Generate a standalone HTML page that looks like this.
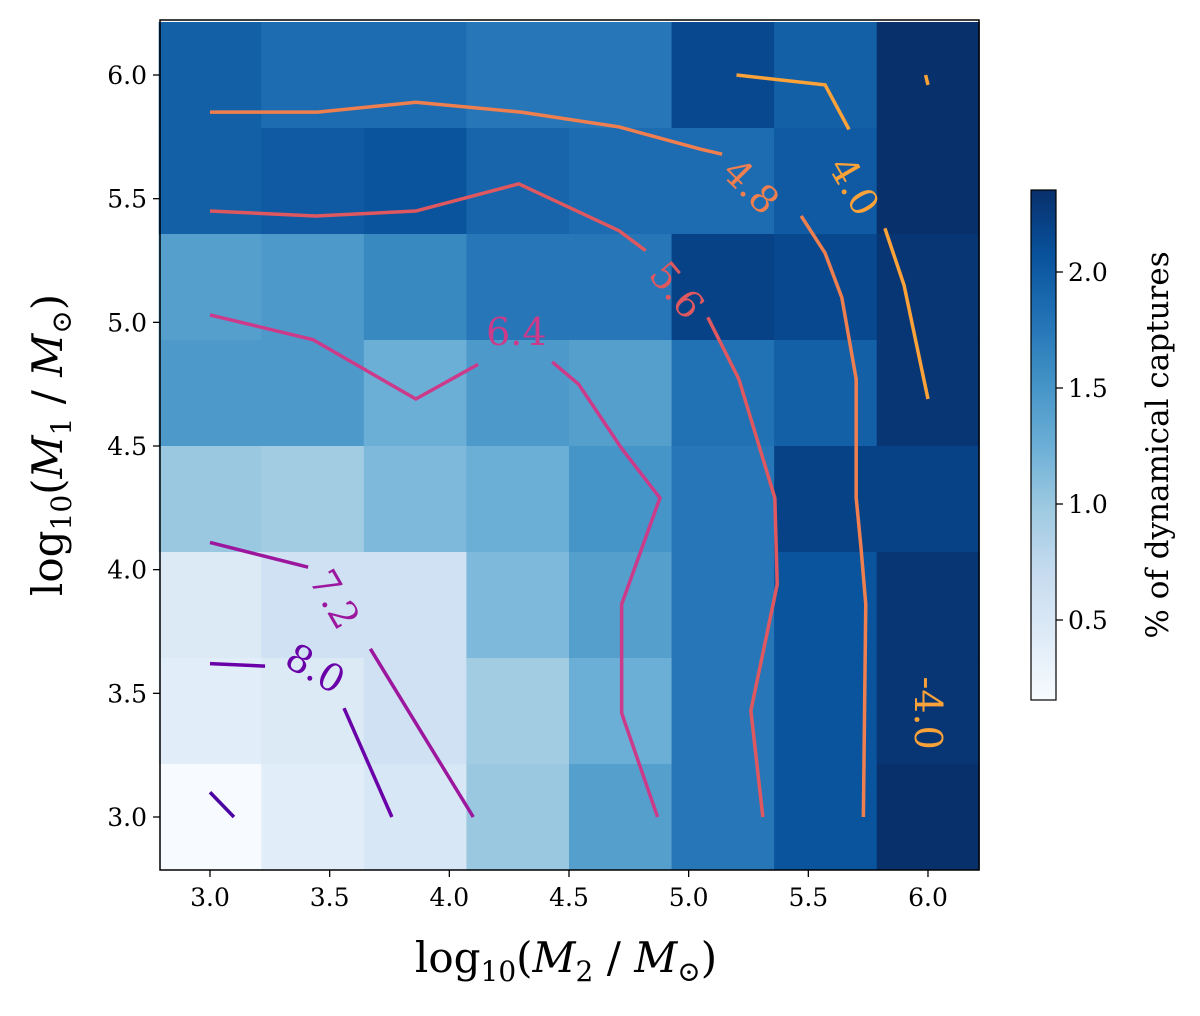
<!DOCTYPE html>
<html><head><meta charset="utf-8"><style>
body{margin:0;background:#fff;}
svg text{font-family:"DejaVu Serif","Liberation Serif",serif;}
</style></head><body>
<svg id="chart" width="1200" height="1011" xmlns="http://www.w3.org/2000/svg">
<g id="cells"></g>
<g id="contours"></g>
<rect x="160" y="20" width="819" height="850" fill="none" stroke="#000" stroke-width="1.5"/>
<g id="axes"></g>
<text x="566" y="972" font-size="42" text-anchor="middle">log<tspan font-size="28" dy="9">10</tspan><tspan dy="-9">(</tspan><tspan font-style="italic">M</tspan><tspan font-size="28" dy="9">2</tspan><tspan dy="-9"> / </tspan><tspan font-style="italic">M</tspan><tspan font-size="28" dy="9">⊙</tspan><tspan dy="-9">)</tspan></text>
<text transform="translate(62,445) rotate(-90)" font-size="42" text-anchor="middle">log<tspan font-size="28" dy="9">10</tspan><tspan dy="-9">(</tspan><tspan font-style="italic">M</tspan><tspan font-size="28" dy="9">1</tspan><tspan dy="-9"> / </tspan><tspan font-style="italic">M</tspan><tspan font-size="28" dy="9">⊙</tspan><tspan dy="-9">)</tspan></text>
<defs><linearGradient id="cbg" x1="0" y1="1" x2="0" y2="0">
<stop offset="0" stop-color="#f7fbff"/><stop offset="0.125" stop-color="#deebf7"/><stop offset="0.25" stop-color="#c6dbef"/><stop offset="0.375" stop-color="#9ecae1"/><stop offset="0.5" stop-color="#6baed6"/><stop offset="0.625" stop-color="#4292c6"/><stop offset="0.75" stop-color="#2171b5"/><stop offset="0.875" stop-color="#08519c"/><stop offset="1" stop-color="#08306b"/></linearGradient></defs>
<rect x="1031" y="190" width="25" height="510" fill="url(#cbg)" stroke="#000" stroke-width="1.2"/>
<g id="cbticks"></g>
<text transform="translate(1168,445) rotate(-90)" font-size="31" text-anchor="middle">% of dynamical captures</text>
</svg>
<script>
const xCenters=[3.0,3.4286,3.8571,4.2857,4.7143,5.1429,5.5714,6.0];
const yCenters=[6.0,5.5714,5.1429,4.7143,4.2857,3.8571,3.4286,3.0];
const values=[
[1.95,1.85,1.85,1.75,1.75,2.15,1.95,2.35],
[1.95,2.0,2.05,1.9,1.85,1.85,2.0,2.35],
[1.4,1.45,1.6,1.75,1.75,2.2,2.15,2.3],
[1.45,1.45,1.25,1.45,1.4,1.8,1.95,2.3],
[1.0,0.95,1.15,1.25,1.5,1.75,2.2,2.2],
[0.45,0.6,0.6,1.15,1.4,1.75,2.05,2.3],
[0.4,0.45,0.6,0.95,1.25,1.75,2.05,2.3],
[0.15,0.4,0.5,1.0,1.4,1.75,2.05,2.35]];
const xTicks=[3.0,3.5,4.0,4.5,5.0,5.5,6.0];
const yTicks=[3.0,3.5,4.0,4.5,5.0,5.5,6.0];
const cbTicks=[0.5,1.0,1.5,2.0];
const levels=[4.0,4.8,5.6,6.4,7.2,8.0,8.8];
const levelColors=["#fba238","#f07f4f","#e0585f","#cc3a8a","#9c179e","#6a00a8","#4b03a1"];
const contourSegs=[
[0,[[5.2,6.0],[5.57,5.96],[5.67,5.78]]],
[0,[[5.82,5.38],[5.9,5.15],[6.0,4.69]]],
[0,[[5.99,6.0],[6.0,5.96]]],
[1,[[3.0,5.85],[3.23,5.85],[3.45,5.85],[3.86,5.89],[4.3,5.85],[4.71,5.79],[5.05,5.7],[5.14,5.68]]],
[1,[[5.47,5.43],[5.57,5.28],[5.64,5.1],[5.7,4.77],[5.7,4.29],[5.72,4.09],[5.74,3.86],[5.73,3.0]]],
[2,[[3.0,5.45],[3.44,5.43],[3.86,5.45],[4.29,5.56],[4.71,5.37],[4.82,5.29]]],
[2,[[5.08,5.02],[5.21,4.77],[5.36,4.29],[5.37,3.94],[5.26,3.43],[5.31,3.0]]],
[3,[[3.0,5.03],[3.43,4.93],[3.86,4.69],[4.12,4.83]]],
[3,[[4.43,4.84],[4.54,4.75],[4.72,4.49],[4.88,4.29],[4.72,3.86],[4.72,3.42],[4.87,3.0]]],
[4,[[3.0,4.11],[3.41,4.01]]],
[4,[[3.67,3.68],[4.1,3.0]]],
[5,[[3.0,3.62],[3.23,3.61]]],
[5,[[3.56,3.44],[3.76,3.0]]],
[6,[[3.0,3.1],[3.1,3.0]]]];
const labelTexts=["4.0","4.8","5.6","6.4","7.2","8.0","-4.0"];
const labelLevelIdx=[0,1,2,3,4,5,0];
const labelPos=[[5.69,5.55],[5.26,5.55],[4.95,5.13],[4.28,4.96],[3.52,3.88],[3.44,3.6],[6.0,3.42]];
const labelRot=[60,45,50,0,60,30,90];

const NS="http://www.w3.org/2000/svg";
const X=v=>210+(v-3)*239.33, Y=v=>817-(v-3)*247.33;
const cbY=v=>620-(v-0.5)*232;
const stops=[[247,251,255],[222,235,247],[198,219,239],[158,202,225],[107,174,214],[66,146,198],[33,113,181],[8,81,156],[8,48,107]];
function cmap(v){let t=Math.max(0,Math.min(1,(v-0.155)/2.195))*8;let i=Math.min(7,Math.floor(t)),f=t-i;
return "rgb("+stops[i].map((c,k)=>Math.round(c+(stops[i+1][k]-c)*f)).join(",")+")";}
function mk(tag,attrs,parent){const e=document.createElementNS(NS,tag);for(const k in attrs)e.setAttribute(k,attrs[k]);parent.appendChild(e);return e;}
const cells=document.getElementById('cells');
const hw=1.5/7;
values.forEach((row,r)=>row.forEach((v,c)=>{
 const x0=X(xCenters[c]-hw),x1=X(xCenters[c]+hw),y0=Y(yCenters[r]+hw),y1=Y(yCenters[r]-hw);
 const e=mk('rect',{x:x0,y:y0,width:x1-x0+0.5,height:y1-y0+0.5,fill:cmap(v)},cells);
 
 
}));
const cg=document.getElementById('contours');
contourSegs.forEach(s=>{
 const e=mk('polyline',{points:s[1].map(p=>X(p[0])+","+Y(p[1])).join(" "),fill:"none",stroke:levelColors[s[0]],"stroke-width":3.5},cg);
 
 
});
labelTexts.forEach((t,i)=>{
 const x=X(labelPos[i][0]),y=Y(labelPos[i][1]);
 const e=mk('text',{x:x,y:y,"font-size":38,"text-anchor":"middle","dominant-baseline":"central",fill:levelColors[labelLevelIdx[i]],transform:"rotate("+labelRot[i]+" "+x+" "+y+")"},cg);
 e.textContent=t;
 
 
});
const ax=document.getElementById('axes');
xTicks.forEach(v=>{
 mk('line',{x1:X(v),x2:X(v),y1:870,y2:877,stroke:"#000","stroke-width":1.3},ax);
 const e=mk('text',{x:X(v),y:906,"font-size":25,"text-anchor":"middle"},ax);e.textContent=v.toFixed(1);
 
 
});
yTicks.forEach(v=>{
 mk('line',{x1:153,x2:160,y1:Y(v),y2:Y(v),stroke:"#000","stroke-width":1.3},ax);
 const e=mk('text',{x:147,y:Y(v)+9,"font-size":25,"text-anchor":"end"},ax);e.textContent=v.toFixed(1);
 
 
});
const cbt=document.getElementById('cbticks');
cbTicks.forEach(v=>{
 mk('line',{x1:1056,x2:1063,y1:cbY(v),y2:cbY(v),stroke:"#000","stroke-width":1.3},cbt);
 const e=mk('text',{x:1068,y:cbY(v)+9,"font-size":25},cbt);e.textContent=v.toFixed(1);
 
 
});
</script>
</body></html>
